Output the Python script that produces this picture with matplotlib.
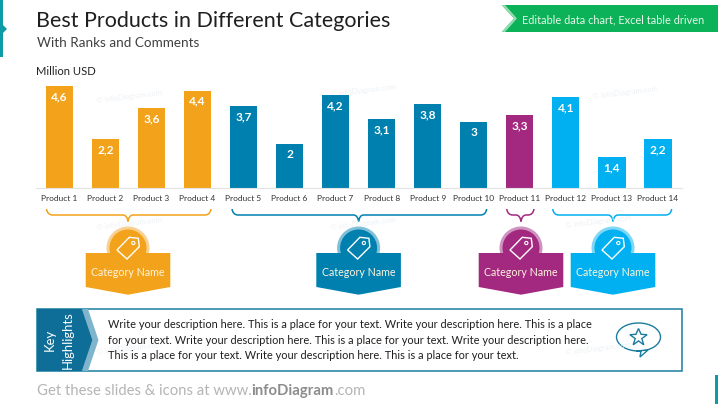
"""Best products bar chart with category callouts."""
import matplotlib
matplotlib.use("Agg")
import matplotlib.pyplot as plt
from matplotlib.patches import Circle, Ellipse, PathPatch, Polygon, Rectangle
from matplotlib.path import Path

W, H = 718, 404

PRODUCTS = [f"Product {i}" for i in range(1, 15)]
VALUES = [4.6, 2.2, 3.6, 4.4, 3.7, 2, 4.2, 3.1, 3.8, 3, 3.3, 4.1, 1.4, 2.2]
BAR_GROUPS = [0, 0, 0, 0, 1, 1, 1, 1, 1, 1, 2, 3, 3, 3]

COLORS = ["#F2A31B", "#0080AF", "#A2297F", "#00B0F0"]
LIGHT = ["#F8D08F", "#7FBFD7", "#CF93BF", "#7FD7F7"]
CATEGORY_NAME = "Category Name"

# brace left, brace right, callout centre in slide pixels
CALLOUTS = [(46.5, 211, 128), (232, 486.7, 358.6), (506.7, 534, 521), (552.7, 671.7, 613)]

DESCRIPTION = [
    "Write your description here. This is a place for your text. Write your description here. This is a place",
    "for your text. Write your description here. This is a place for your text. Write your description here.",
    "This is a place for your text. Write your description here. This is a place for your text.",
]
WATERMARKS = [(96, 97), (330, 91), (592, 93), (96, 224), (330, 224), (565, 222), (96, 349), (330, 349), (565, 349)]

FONT = "Lato"
TEAL = "#1A7C9E"


def brace(ax, x0, x1, tip, color):
    y0, y1, yt = 209, 215, 221.5
    codes = [Path.MOVETO, Path.CURVE3, Path.CURVE3, Path.LINETO, Path.CURVE3, Path.CURVE3,
             Path.CURVE3, Path.CURVE3, Path.LINETO, Path.CURVE3, Path.CURVE3]
    verts = [(x0, y0), (x0 + 1, y1), (x0 + 6, y1), (tip - 5, y1), (tip - 1, y1), (tip, yt),
             (tip + 1, y1), (tip + 5, y1), (x1 - 6, y1), (x1 - 1, y1), (x1, y0)]
    ax.add_patch(PathPatch(Path(verts, codes), fc="none", ec=color, lw=1.1))


def callout(ax, cx, color, light):
    ax.add_patch(Circle((cx, 248), 21.5, fc=light, ec="none"))
    ax.add_patch(Circle((cx, 248), 18.5, fc=color, ec="none"))
    ax.add_patch(Polygon([(cx - 42.3, 253), (cx + 42.3, 253), (cx + 42.3, 287),
                          (cx, 294.7), (cx - 42.3, 287)], fc=color, ec="none"))
    tag = [(-11, 2), (1.3, -10.7), (10.3, -9.7), (11.3, -1.3), (-1, 11)]
    ax.add_patch(Polygon([(cx + x, 248 + y) for x, y in tag], fc="none", ec="white", lw=1.0))
    ax.add_patch(Circle((cx + 5.3, 243), 1.6, fc="none", ec="white", lw=0.8))
    ax.text(cx, 272.5, CATEGORY_NAME, color="#FFF4DF", fontsize=7.7, family=FONT,
            ha="center", va="center")


def star_points(cx, cy):
    outer = [(0, -9), (8.6, -2.8), (5.3, 7.3), (-5.3, 7.3), (-8.6, -2.8)]
    inner = [(2.6, -3.2), (3.3, 1.1), (0, 3.4), (-3.3, 1.1), (-2.6, -3.2)]
    pts = []
    for o, i in zip(outer, inner):
        pts.append((cx + o[0], cy + o[1]))
        pts.append((cx + i[0], cy + i[1]))
    return pts


fig = plt.figure(figsize=(W / 100, H / 100), dpi=100, facecolor="white")

bg = fig.add_axes([0, 0, 1, 1])
bg.set_xlim(0, W)
bg.set_ylim(H, 0)
bg.axis("off")

for x, y in WATERMARKS:
    bg.text(x, y, "© infoDiagram.com", color="#EDF1F4", fontsize=5.5, family=FONT,
            rotation=7, ha="left", va="center")

# bars, baseline at y=188.3, 22.2 px per unit
bar_top = 80.0
ax = fig.add_axes([36 / W, 1 - 188.3 / H, (681.7 - 36) / W, (188.3 - bar_top) / H])
ax.patch.set_alpha(0)
xs = list(range(len(VALUES)))
bars = ax.bar(xs, VALUES, width=0.59, color=[COLORS[g] for g in BAR_GROUPS], linewidth=0)
ax.set_xlim(-0.506, 13.515)
ax.set_ylim(0, (188.3 - bar_top) / 22.2)
ax.set_yticks([])
ax.set_xticks(xs)
ax.set_xticklabels(PRODUCTS, fontsize=6.0, family=FONT, color="#333333")
ax.tick_params(axis="x", length=0, pad=5)
for side in ("top", "left", "right"):
    ax.spines[side].set_visible(False)
ax.spines["bottom"].set_color("#E3E3E3")
ax.spines["bottom"].set_linewidth(0.8)
for x, v in zip(xs, VALUES):
    ax.annotate(f"{v:g}".replace(".", ","), xy=(x, v), xytext=(0, -7.7), textcoords="offset points",
                color="white", fontsize=8.6, fontweight="bold", family=FONT,
                ha="center", va="center")

# header
bg.text(36, 21, "Best Products in Different Categories", fontsize=15.5, family=FONT,
        color="#1F1F1F", ha="left", va="center")
bg.text(37, 43, "With Ranks and Comments", fontsize=9.7, family=FONT,
        color="#404040", ha="left", va="center")
bg.text(36, 71.5, "Million USD", fontsize=8.1, family=FONT, color="#222222", ha="left", va="center")

bg.add_patch(Polygon([(0, 0), (3, 0), (3, 25), (7, 29), (3, 33), (3, 57), (0, 57)], fc="#0E9AA7", ec="none"))
bg.add_patch(Rectangle((715, 375), 3, 29, fc="#0E9AA7", ec="none"))

bg.add_patch(Polygon([(501.7, 5), (718, 5), (718, 32), (501.7, 32), (514, 18.5)], fc="#0BB257", ec="none"))
bg.add_patch(Polygon([(501.7, 5), (505, 5), (517, 18.5), (505, 32), (501.7, 32), (514, 18.5)],
                     fc="#8FDCB0", ec="none"))
bg.text(613, 19.5, "Editable data chart, Excel table driven", fontsize=7.9, family=FONT,
        color="#E6F7EC", ha="center", va="center")

for (x0, x1, cx), color, light in zip(CALLOUTS, COLORS, LIGHT):
    brace(bg, x0, x1, cx, color)
    callout(bg, cx, color, light)

# key highlights box
bg.add_patch(Rectangle((36.5, 308.7), 645.2, 62.6, fc="none", ec=TEAL, lw=1.1))
bg.add_patch(Polygon([(82, 309), (88, 309), (98.5, 340), (88, 371), (82, 371), (92.5, 340)],
                     fc="#7FB5CC", ec="none"))
bg.add_patch(Polygon([(37, 309), (82, 309), (92.5, 340), (82, 371), (37, 371)], fc="#0F6E98", ec="none"))
bg.text(50, 340, "Key", rotation=90, color="white", fontsize=9.4, family=FONT, ha="center", va="center")
bg.text(67.5, 340, "Highlights", rotation=90, color="white", fontsize=9.4, family=FONT, ha="center", va="center")
for y, line in zip((324, 340, 355.6), DESCRIPTION):
    bg.text(108, y, line, fontsize=7.9, family=FONT, color="#1E1E1E", ha="left", va="center")

# speech bubble icon
bg.add_patch(Ellipse((638.5, 337), 44, 28, fc="none", ec=TEAL, lw=1.0))
bg.add_patch(Polygon([(636, 351), (641, 351), (640, 357), (648, 350)], fc="white", ec=TEAL, lw=1.0))
bg.add_patch(Polygon(star_points(638.5, 337.5), fc="none", ec=TEAL, lw=1.0))

# footer
t1 = bg.text(37, 391, "Get these slides & icons at www.", fontsize=10.7, family=FONT,
             color="#B5B5B5", ha="left", va="center")
t2 = bg.annotate("infoDiagram", xy=(1, 0.5), xycoords=t1, xytext=(0, 0), textcoords="offset points",
                 fontsize=10.7, family=FONT, fontweight="bold", color="#8C8C8C", ha="left", va="center")
bg.annotate(".com", xy=(1, 0.5), xycoords=t2, xytext=(0, 0), textcoords="offset points",
            fontsize=10.7, family=FONT, color="#B5B5B5", ha="left", va="center")

fig.savefig("out.png", dpi=100)
